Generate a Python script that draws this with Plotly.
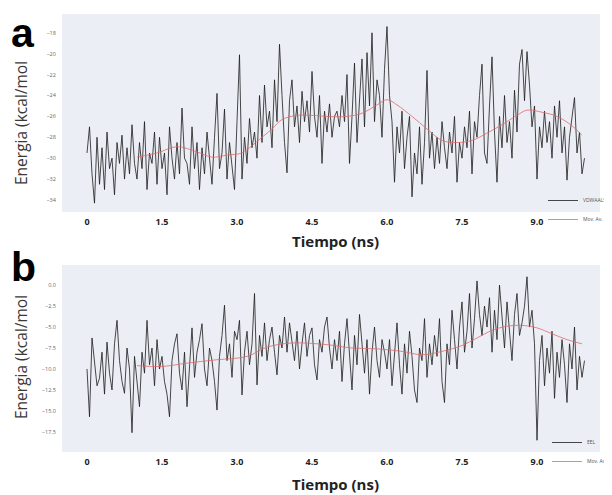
import numpy as np
import plotly.graph_objects as go

# ---------------- data ----------------
# time grid (ns), 0.05 ns sampling
time_ns = np.round(np.arange(200) * 0.05, 2)

vdw_energy = [
    -29.5, -27.0, -31.5, -34.3, -28.0, -32.5, -29.0, -33.0, -27.5, -31.0, -30.0, -33.5, -28.5, -30.5, -27.8, -32.0, -29.0, -31.5, -26.8, -30.5,
    -32.0, -28.5, -31.0, -26.5, -33.0, -29.5, -30.5, -27.5, -32.5, -28.0, -31.0, -29.5, -33.5, -27.0, -30.0, -32.0, -28.5, -31.5, -25.2, -30.0,
    -30.5, -32.5, -27.0, -31.0, -28.5, -33.0, -29.0, -31.5, -27.5, -30.0, -32.5, -28.0, -23.8, -31.0, -29.5, -25.3, -32.0, -28.5, -30.5, -33.0,
    -26.5, -20.1, -32.0, -28.0, -30.5, -26.2, -29.0, -27.5, -30.0, -24.0, -28.5, -23.0, -27.0, -25.5, -29.0, -22.5, -26.5, -19.1, -24.0, -28.5,
    -31.4, -24.5, -22.5, -27.0, -25.0, -28.5, -23.6, -26.5, -24.5, -27.5, -21.7, -26.0, -28.0, -24.0, -30.5, -25.5, -27.5, -24.8, -28.0, -26.0,
    -25.5, -27.0, -24.0, -26.5, -22.0, -30.5, -26.0, -20.9, -28.5, -24.5, -20.5, -27.0, -19.9, -25.0, -18.0, -26.5, -22.5, -24.0, -28.0, -21.5,
    -17.4, -24.0, -26.5, -32.3, -27.0, -29.5, -25.5, -31.0, -28.0, -26.0, -33.7, -29.5, -31.5, -27.0, -32.5, -28.5, -21.6, -30.0, -27.5, -31.0,
    -28.0, -30.5, -26.5, -29.0, -31.0, -27.5, -29.5, -26.0, -32.3, -28.5, -30.0, -27.0, -29.0, -25.5, -31.5, -26.5, -28.0, -24.0, -21.0, -29.5,
    -30.5, -25.0, -20.3, -27.5, -32.3, -26.0, -29.0, -24.0, -28.5, -26.5, -30.0, -23.5, -27.5, -21.0, -19.6, -24.5, -19.8, -23.0, -27.0, -25.0,
    -32.0, -27.0, -29.0, -25.5, -28.5, -26.5, -30.0, -25.0, -28.0, -24.5, -29.5, -27.0, -32.1, -28.0, -26.0, -24.2, -29.5, -27.5, -31.5, -30.0,
]

vdw_avg_t = [1.0, 1.4, 1.8, 2.2, 2.5, 2.8, 3.1, 3.3, 3.5, 3.7, 3.9, 4.2, 4.5, 4.8, 5.2, 5.5,
             5.8, 6.0, 6.2, 6.5, 6.8, 7.1, 7.4, 7.7, 8.0, 8.3, 8.6, 8.8, 9.1, 9.4, 9.7, 9.9]
vdw_avg = [-29.9, -29.5, -28.9, -29.4, -29.9, -29.7, -29.5, -28.8, -28.0, -27.2, -26.3, -25.9, -25.9, -26.0, -26.0, -25.7,
           -24.9, -24.4, -24.9, -26.0, -27.2, -28.3, -28.5, -28.3, -27.6, -26.8, -25.9, -25.4, -25.6, -26.0, -26.9, -27.8]

eel_energy = [
    -10.0, -15.7, -6.3, -9.5, -12.0, -11.1, -8.0, -13.0, -6.8, -10.5, -12.5, -7.0, -4.2, -9.0, -11.5, -12.9, -7.5, -10.0, -17.6, -8.5,
    -12.0, -14.5, -8.0, -10.5, -4.2, -9.5, -7.5, -12.0, -6.5, -10.0, -8.5, -11.5, -13.0, -15.7, -9.0, -7.0, -5.8, -10.5, -12.5, -8.0,
    -14.5, -9.5, -5.1, -11.0, -8.0, -6.5, -4.6, -10.0, -12.0, -7.5, -9.0, -11.5, -14.9, -8.5, -6.0, -2.4, -9.0, -7.0, -11.0, -5.5,
    -6.5, -4.2, -13.1, -8.0, -5.5, -9.5, -7.0, -1.0, -11.9, -6.0, -8.5, -4.5, -9.0, -6.5, -5.0, -8.0, -10.7, -6.0, -7.5, -3.8,
    -8.0, -4.5, -6.5, -9.0, -5.5, -10.0, -7.0, -4.5, -8.5, -6.0, -5.1, -9.5, -11.3, -6.5, -8.0, -5.0, -3.8, -7.5, -10.0, -6.5,
    -9.0, -5.5, -11.5, -7.0, -4.0, -8.5, -12.5, -6.0, -9.5, -3.5, -7.5, -10.5, -6.5, -13.0, -8.0, -5.0, -9.0, -11.0, -6.5, -8.0,
    -10.0, -6.5, -12.0, -8.0, -4.5, -9.5, -13.0, -7.0, -10.5, -5.5, -8.5, -12.5, -14.0, -7.5, -9.0, -4.0, -11.0, -7.0, -9.5, -6.0,
    -8.5, -4.0, -11.5, -14.0, -7.0, -9.5, -3.0, -6.5, -10.0, -5.0, -2.0, -8.0, -5.5, -1.0, -7.5, -4.0, 0.5, -3.5, -6.0, -2.5,
    -5.0, -1.5, -8.0, -3.0, -6.5, 0.0, -4.0, -7.5, -2.0, -5.5, -9.0, -3.5, -1.0, -6.0, -4.5, -2.5, 1.0, -5.0, -3.0, -7.0,
    -18.5, -9.0, -6.0, -12.0, -7.5, -10.5, -5.5, -13.5, -8.0, -11.0, -6.5, -9.5, -14.0, -7.0, -10.0, -5.0, -12.5, -8.5, -11.0, -9.0,
]

eel_avg_t = [1.0, 1.5, 2.0, 2.6, 3.2, 3.6, 4.1, 4.8, 5.3, 5.8, 6.3, 6.7, 7.1, 7.5, 7.8,
             8.1, 8.4, 8.7, 9.0, 9.3, 9.6, 9.9]
eel_avg = [-9.6, -9.7, -9.3, -8.9, -8.5, -7.4, -6.9, -7.1, -7.5, -7.6, -7.9, -8.3, -7.9, -7.2, -6.3,
           -5.4, -4.9, -4.8, -5.1, -5.8, -6.5, -7.0]

x_tickvals = [0, 1.5, 3.0, 4.5, 6.0, 7.5, 9.0]
x_ticktext = ["0", "1.5", "3.0", "4.5", "6.0", "7.5", "9.0"]
vdw_ticks = [-18, -20, -22, -24, -26, -28, -30, -32, -34]
eel_ticks = [0.0, -2.5, -5.0, -7.5, -10.0, -12.5, -15.0, -17.5]
eel_ticktext = ["0.0", "-2.5", "-5.0", "-7.5", "-10.0", "-12.5", "-15.0", "-17.5"]

# ---------------- figure ----------------
# the page body has an 8 px margin, so the figure is 8 px smaller and all
# reference pixel positions are shifted by 8 px
OFF = 8
W, H = 612 - OFF, 495 - OFF
FONT = "Open Sans"
PLOT_BG = "#eceef5"
LINE_COL = "#1a1a1a"
AVG_COL = "#e06a6a"


def px_x(v):
    return (v - OFF) / W


def px_y(v):
    return 1 - (v - OFF) / H


fig = go.Figure()

fig.add_trace(go.Scatter(x=time_ns, y=vdw_energy, mode="lines", name="VDWAALS",
                         line=dict(color=LINE_COL, width=0.8), xaxis="x", yaxis="y", legend="legend"))
fig.add_trace(go.Scatter(x=vdw_avg_t, y=vdw_avg, mode="lines", name="Mov. Av.",
                         line=dict(color=AVG_COL, width=0.8, shape="spline"), xaxis="x", yaxis="y", legend="legend"))
fig.add_trace(go.Scatter(x=time_ns, y=eel_energy, mode="lines", name="EEL",
                         line=dict(color=LINE_COL, width=0.8), xaxis="x2", yaxis="y2", legend="legend2"))
fig.add_trace(go.Scatter(x=eel_avg_t, y=eel_avg, mode="lines", name="Mov. Av.",
                         line=dict(color=AVG_COL, width=0.8, shape="spline"), xaxis="x2", yaxis="y2", legend="legend2"))

xdom = [px_x(62), px_x(600)]
ydom_top = [px_y(212), px_y(14)]
ydom_bot = [px_y(452), px_y(265)]

xaxis_common = dict(
    range=[-0.5, 10.26], domain=xdom, showgrid=False, zeroline=False, showline=False,
    tickvals=x_tickvals, ticktext=x_ticktext, ticks="outside", ticklen=1, tickcolor="rgba(0,0,0,0)",
    tickfont=dict(family=FONT, size=9, color="#222222", weight="bold"),
)
yaxis_common = dict(
    showgrid=False, zeroline=False, showline=False, ticks="outside", ticklen=4,
    tickcolor="rgba(0,0,0,0)", tickfont=dict(family=FONT, size=5.5, color="#666666"),
)

fig.update_layout(
    width=W, height=H,
    margin=dict(l=0, r=0, t=0, b=0),
    paper_bgcolor="white", plot_bgcolor=PLOT_BG,
    xaxis=dict(**xaxis_common, anchor="y"),
    yaxis=dict(**yaxis_common, domain=ydom_top, range=[-35.15, -16.2], tickvals=vdw_ticks,
               ticktext=[str(v).replace("-", "\u2212") for v in vdw_ticks], anchor="x"),
    xaxis2=dict(**xaxis_common, anchor="y2"),
    yaxis2=dict(**yaxis_common, domain=ydom_bot, range=[-19.9, 2.4], tickvals=eel_ticks,
                ticktext=[t.replace("-", "\u2212") for t in eel_ticktext], anchor="x2"),
    legend=dict(x=1.0, y=px_y(186), xanchor="right", yanchor="top", bgcolor="rgba(0,0,0,0)",
                font=dict(family=FONT, size=5, color="#555555"), itemwidth=30, tracegroupgap=0),
    legend2=dict(x=1.0, y=px_y(428), xanchor="right", yanchor="top", bgcolor="rgba(0,0,0,0)",
                 font=dict(family=FONT, size=5, color="#555555"), itemwidth=30, tracegroupgap=0),
    showlegend=True,
)

# axis titles, panel letters
for yc, letter, ly in [(px_y(123), "a", px_y(33)),
                       (px_y(357), "b", px_y(267))]:
    fig.add_annotation(x=px_x(21), y=yc, xref="paper", yref="paper", text="Energia (kcal/mol",
                       textangle=-90, showarrow=False, xanchor="center", yanchor="middle",
                       font=dict(family=FONT, size=15.5, color="#3a3a3a"))
    fig.add_annotation(x=px_x(9), y=ly, xref="paper", yref="paper", text=f"<b>{letter}</b>",
                       showarrow=False, xanchor="left", yanchor="middle",
                       font=dict(family="Liberation Sans", size=41, color="black"))

for ty in [px_y(241), px_y(484)]:
    fig.add_annotation(x=px_x(335), y=ty, xref="paper", yref="paper", text="<b>Tiempo (ns)</b>",
                       showarrow=False, xanchor="center", yanchor="middle",
                       font=dict(family=FONT, size=15, color="#222222"))

fig.write_html("out.html")
